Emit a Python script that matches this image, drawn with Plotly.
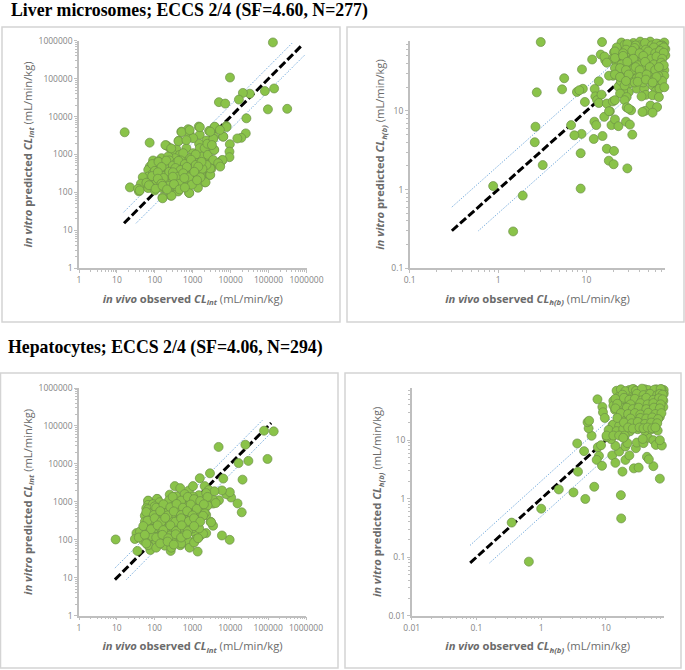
import math
import plotly.graph_objects as go

W = 685
H = 670

# (observed, predicted)
lm_clint = [
    (130000,900000),(9600,107000),(140000,55000),(80000,47000),(310000,16000),(96000,15500),(32000,40000),(21000,42000),
    (16500,28000),(4900,24000),(7200,22000),(26000,9000),(25000,3600),(19000,2750),(15000,2650),(9500,1870),(9300,1190),
    (9300,850),(16,3850),(73,2050),(22,136),(38,107),
    (1440,5450),(3800,5250),(7700,5650),(500,4000),(757,4650),(830,3500),(1530,3300),(2700,4200),(3640,2970),(6300,2970),
    (428,2300),(2290,2340),(1470,1920),(1020,2700),(203,1730),(250,1470),(370,1380),(680,1470),(1020,1085),(1530,1470),
    (2060,1470),(3640,1330),(2430,1920),(5900,695),(3200,695),(5100,535),(4200,570),(316,980),(150,800),(615,800),(455,980),
    (1440,850),(2060,725),(920,660),(90,695),(122,660),(74,480),(111,480),(82,395),(67,395),(184,437),(250,590),(335,535),
    (455,535),(590,570),(830,800),(1130,500),(2200,535),(3100,420),(2290,290),(1530,395),(69,265),(111,253),(191,323),
    (250,290),(335,323),(455,290),(640,357),(920,290),(1250,253),(1870,265),(2800,290),(2060,185),(48,253),(191,207),
    (500,195),(275,160),(135,160),(90,195),(55,150),(43,170),(36,125),(40,113),(67,130),(100,113),(156,130),(250,113),
    (410,106),(800,97),(264,82),(159,74),(1020,175),
    (150,323),(226,395),(410,395),(757,395),(1020,395),(615,265),(370,207),(275,245),(135,395),(100,290),(90,320),(165,590),
    (335,800),(1250,725),(1700,880),(2500,980),(560,1085),(226,890),(275,480),(560,437),(920,437),(1250,357),(1630,535),
    (184,175),(335,207),(757,207),(370,144),(184,130),(74,175),(122,215),(226,118),
    (3470,718),(6100,718),(4700,590),(5300,480),(2180,185),(2900,290),(1370,133),(810,97),(276,82),(160,70),(2900,430),
    (2300,530),(3500,2600),(3800,5400),(7800,5300),(6400,2950),(3700,1320),(3200,1770),(5200,4450),(2900,4000),
    (510,3900),(830,4400),(1540,5250),(190,1770),(270,1450),(420,2250),(680,2400),
    (130,250),(180,500),(240,700),(300,420),(380,620),(480,700),(650,500),(800,600),(1000,700),(1200,1000),(1400,600),
    (110,210),(170,270),(230,190),(300,230),(420,240),(520,160),(650,220),(900,210),(1100,300),(1500,320),(1800,420),
    (85,560),(125,640),(200,690),(300,510),(420,680),(620,560),(900,730),(1200,530),(1700,640),
    (100,370),(150,470),(240,350),(350,440),(480,390),(700,470),(1050,330),(1400,480),
    (85,270),(120,340),(170,240),(300,340),(420,260),(560,320),(800,250),(1100,350),(1600,250),
    (60,180),(120,230),(150,170),(240,150),(300,260),(450,170),(600,240),(950,160),(1300,210),
    (70,155),(105,125),(160,150),(210,120),(320,165),(450,120),(620,135),
]

lm_clhb = [
    (3.04,75),(15,75),(24.9,74),(14.5,52),(11.6,45),(8.9,33.7),(5.6,26),(5.3,18.8),(2.74,17.2),(7.8,17.4),(9.1,19.1),
    (8.3,18.3),(9.6,13),(13.8,23.8),(12.4,19),(12.6,15.3),(13.2,13.7),(14.8,16.1),(13.8,12.6),(17,12.4),(19.9,13.2),
    (18.4,9.9),(15.9,8.4),(12.3,7.3),(12.9,6.6),(19.2,6.6),(21,7.8),(23,6.4),(28,7.3),(31,6.7),(33,5),(15.2,4.8),
    (12.1,4.4),(8.8,5.1),(7.3,4.9),(6.7,6.6),(2.65,6.3),(2.6,4),(3.2,2.05),(8.6,2.9),(17,3.3),(20.5,3.1),(17.9,2.33),
    (20.3,2.1),(29,1.86),(0.88,1.11),(8.6,1.03),(1.9,0.84),(1.48,0.294),
    (34,73),(40.5,76),(52.6,76),(65,71),(76,74),(78,61),(65,59),(55,59),(44,59),(37,59),(30,59),(32,68),(27,69),
    (20.5,55.5),(25,55),(31,50),(38,49),(48,51),(59,49),(67,47),(78,51),(19.7,46),(23,44),(27,42),(34,40),(42,40),
    (53,40),(65,38),(16.3,44),(76,33),(76,28),(57,35),(46,32.7),(37,34.5),(32,27.8),(27,32),(25,32.7),(23,30),(26,25.6),
    (30,22),(20,28),(18,28),(37,19.2),(45,19.2),(56,21),(64,22),(61,17.8),(67,19.2),(47,16),(56,15.8),(42,15.3),(30,17.3),
    (26,18),(23,20.3),(24,16.6),(28.5,15),(27,13.7),(28.5,11.1),(32,10.2),(30,10.7),(21,13.7),(53,11.7),(63,11.2),(46,10),
    (56,9.5),(43,9.7),(18,9.9),
    (40,68),(49,68),(59,68),(44,68),(35,52),(42,49),(53,49),(25,40),(30,36),(34,30),(39,30),(50,30),(59,30),(65,28),(46,26),
    (37,26),(70,37),(72,68),(62,54),(48,36),(31,44),(36,44),(22,40),(21,35),(24.5,24),(27,21),(70,55),(74,66),(57,66),
    (60,44),(70,43),(44,45),(28,55),(23,52),(33,33),(42,36),(55,28),(72,24),(76,20),(66,15),(58,25),(44,23),(35,23),
    (29,71),(36,68),(46,73),(55,68),(62,72),(68,67),
    (22,64),(28,60),(35,63),(47,60),(58,64),(70,61),(75,64),
    (21,57),(26,54),(33,58),(40,54),(50,57),(60,54),(68,58),(75,55),
    (16,49),(21,47),(26,50),(34,46),(44,50),(54,46),(62,49),(72,46),
    (17,41),(25,39),(29,42),(38,38),(46,42),(58,39),(70,41),(75,38),
    (24,35),(28,33),(36,36),(40,33),(52,36),(60,33),(66,36),
    (21,29),(24,27),(30,29),(40,27),(48,29),(62,27),
    (28,24),(38,23.5),(47,25),(56,23),
]

hep_clint = [
    (140000,72000),(78000,75000),(25000,32000),(4900,28000),(96000,13500),(30000,12000),(16500,10500),(21000,3850),
    (6500,4100),(2900,5650),(1560,4200),(9.3,102),(35,51),(1370,49),(830,66),(265,51),(77,54),(9600,100),(6000,130),
    (3500,235),(3000,300),(2300,150),(1560,125),(1400,180),(1100,90),(20000,530),(15500,910),(10500,1300),(7800,1600),
    (9700,1800),(6000,2000),(5000,1100),(3500,900),(2300,450),(118,1180),(68,1050),(68,860),
    (67,1080),(115,1200),(67,830),(60,680),(340,2600),(475,2300),(810,2000),(1480,1500),(1030,2600),(2100,2600),
    (2700,2050),(3800,1900),(2300,1700),(3500,1120),(4100,930),(2350,920),(1300,1020),(840,1250),(460,1250),(275,1130),
    (250,1550),(375,1400),(620,1600),(1030,1380),
    (90,870),(135,980),(205,860),(300,1000),(410,850),(680,990),(1030,880),(1700,960),
    (67,640),(100,580),(165,660),(250,570),(375,650),(560,590),(840,670),(1400,580),(2100,640),
    (55,430),(81,385),(122,440),(205,380),(300,430),(460,395),(760,445),(1130,385),(1540,430),
    (55,300),(74,260),(110,290),(165,255),(250,295),(410,260),(620,290),(930,255),(1400,285),
    (33,150),(41,165),(60,140),(90,160),(135,140),(205,165),(300,140),(460,160),(680,140),(1130,160),(1900,145),
    (30,105),(50,95),(74,108),(110,92),(165,108),(275,94),(460,106),(760,92),(1250,105),
    (67,72),(110,62),(184,70),(275,62),(475,72),(840,62),
    (3100,290),(1100,85),(1400,110),
    (75,500),(100,760),(130,520),(160,770),(200,700),(240,1100),(320,780),(420,620),(500,1050),(600,800),(800,800),
    (1000,620),(1300,760),(1700,700),(2500,800),(90,340),(130,340),(170,480),(220,520),(260,340),(340,480),(420,330),
    (560,400),(700,500),(900,480),(1200,500),(1700,520),(2100,500),(70,200),(100,200),(140,210),(180,190),(240,200),
    (300,210),(380,190),(480,210),(600,190),(800,220),(1000,200),(1300,300),(1500,200),(85,125),(130,120),(200,125),
    (250,130),(340,120),(420,130),(600,130),(500,80),
    (300,1350),(500,1080),(750,1350),(1100,1180),(1600,1050),(2500,1350),
    (110,700),(170,860),(260,720),(380,880),(560,700),(900,850),(1300,650),(2000,860),
    (60,540),(95,450),(140,570),(220,440),(320,560),(500,450),(720,570),(1000,440),(1900,430),
    (65,320),(100,370),(150,300),(190,380),(350,300),(500,370),(800,310),(1100,370),(1600,300),
    (50,230),(80,190),(120,240),(170,180),(260,240),(370,170),(520,240),(760,170),(1100,230),
    (38,115),(55,135),(110,115),(160,135),(230,110),(360,140),(500,115),(720,140),
    (60,80),(140,80),(220,90),(320,75),
]

hep_clhb = [
    (0.645,0.084),(0.35,0.39),(1,0.675),(1.87,1.44),(3.15,1.28),(4.8,0.99),(6.6,1.6),(17,1.15),(17.2,0.46),(68,2.2),
    (3.7,2.9),(3.6,8.8),(4.6,6.5),(6,11.9),(5.4,16),(5.2,20.3),(5.5,21.5),(7.4,50),(8.8,37),(9,30),(9.6,24),
    (7.5,7.6),(8.4,8.2),(7.8,5.4),(7.2,4.6),(8.7,3.65),(12.5,5.5),(14,4.1),(18,2.9),(20,4.6),(23,5.5),(27,3.3),(32,3.4),
    (54,3.6),(43,5.2),(46,4.7),(16,6.4),(14,8),(12,10.4),(10.3,11.3),(11,13),(19,11),(20,7.8),(21.5,8.9),(29,7.3),(30,9.1),
    (38,10),(38,8.9),(45,11),(54,10),(59,8.3),(73,8.1),(68,10),(12.6,18),(14.7,14.6),
    (14.6,70),(18,65),(23,72),(32,66),(40,74),(51,67),(66,72),(77,65),
    (16,56),(22,51),(28,57),(35,52),(45,58),(58,52),(72,56),
    (13,47),(16,44),(20.8,48),(25,44),(31,47),(40,43),(50,48),(63,44),(77,47),
    (13,39),(17.4,36),(22,40),(28,36),(35,39),(47,36),(60,40),(77,37),
    (13.8,33),(18.5,30),(23.5,33),(29,30),(37,33),(50,31),(63,34),
    (19.5,27),(25,25),(31,28),(40,25),(53,27.5),(68,25),
    (17.4,22),(22,20.5),(29,22.5),(37,20.5),(47,22.5),(60,20.5),
    (13,18.5),(16,17.5),(20.8,19),(28,17.5),(35,19),(47,17.5),(56,19),
    (11,15),(14.6,14.3),(18.5,15.5),(23.5,14.2),(31,15.4),(40,14.4),(50,15.3),(63,14.6),
    (10.2,12),(13,12),(16,12),(19.5,12),(18.5,11),(37,10.5),
    (78,72),(78,62),(72,74),(60,74),(45,72),(27,74),(20,62),(25,60),(33,60),(42,62),(52,60),(65,60),(18,50),(24,50),
    (17,74),(20,69),(26,75),(29,70),(36,76),(56,73),(70,75),
    (18,60),(30,62),(38,59),(48,62),(62,59),(68,62),(75,60),
    (14,51),(19,53),(23,49),(28,51),(36,48),(42,53),(54,49),(66,52),(75,50),
    (15,42),(24,41),(34,43),(44,41),(54,43),(70,41),
    (14,35),(21,36),(26,34),(32,36),(42,34),(55,36),(68,35),
    (17,29),(22,28),(28,29),(34,27.5),(45,29.5),(58,28),(72,29),
    (15,24),(24,23.5),(34,24),(42,23.5),(52,24.5),(64,23),
    (19,20),(25,19.5),(31,20.5),(40,19),(50,20),(62,19.5),
    (22,16.5),(26,15.8),(33,16.5),(38,16),(44,16.5),(52,16),(58,16.5),
]

# reference lines: start and end of each one
lm_clint_unity = [15.4, 740000]
lm_clint_upper = ([15, 430000], [30, 890000])
lm_clint_lower = ([32, 900000], [15.4, 420000])
lm_clhb_unity = [0.3, 78]
lm_clhb_upper = ([0.3, 39], [0.6, 78])
lm_clhb_lower = ([0.6, 78], [0.3, 39])
hep_clint_unity = [8.9, 120000]
hep_clint_upper = ([8.9, 70000], [18, 140000])
hep_clint_lower = ([18, 114000], [9, 63000])
hep_clhb_unity = [0.08, 78]
hep_clhb_upper = ([0.08, 39], [0.16, 78])
hep_clhb_lower = ([0.16, 78], [0.08, 39])

decades_int = [1, 10, 100, 1000, 10000, 100000, 1000000]
decades_lm = [0.1, 1, 10]
decades_hep = [0.01, 0.1, 1, 10]
labels_int = ['1', '10', '100', '1000', '10000', '100000', '1000000']
labels_lm = ['0.1', '1', '10']
labels_hep = ['0.01', '0.1', '1', '10']

GREY = '#bfbfbf'
TICKTEXT = '#858585'
TITLETEXT = '#6b6b6b'
GREEN = '#8ac349'
SF = 'Open Sans'

fig = go.Figure()


def minors(decades, top):
    out = []
    for d in decades:
        for k in range(2, 10):
            if d * k <= top:
                out.append(d * k)
    return out


def axis_title(a, b, unit_sub):
    return ('<b><i>%s</i> %s <i>CL<sub>%s</sub></i></b> (mL/min/kg)' % (a, b, unit_sub))


def panel(n, pts, unity, upper, lower, px, py, decades, labels, top, sub):
    # px, py are the plot area in pixels, from the top left
    xname = 'x' + str(n)
    yname = 'y' + str(n)
    fig.add_trace(go.Scatter(x=upper[0], y=upper[1], mode='lines', xaxis=xname, yaxis=yname,
                             line=dict(color='#5b9bd5', width=1, dash='1px,1.5px')))
    fig.add_trace(go.Scatter(x=lower[0], y=lower[1], mode='lines', xaxis=xname, yaxis=yname,
                             line=dict(color='#5b9bd5', width=1, dash='1px,1.5px')))
    fig.add_trace(go.Scatter(x=unity, y=unity, mode='lines', xaxis=xname, yaxis=yname,
                             line=dict(color='black', width=3, dash='8px,3px')))
    fig.add_trace(go.Scatter(x=[p[0] for p in pts], y=[p[1] for p in pts], mode='markers',
                             xaxis=xname, yaxis=yname, cliponaxis=False,
                             marker=dict(size=9, color=GREEN, line=dict(color='#6d9148', width=0.7))))
    rng = [math.log10(decades[0]), math.log10(top)]
    common = dict(type='log', range=rng, tickmode='array', tickvals=decades, ticktext=labels,
                  showgrid=False, zeroline=False, showline=True, linecolor=GREY, linewidth=1.5,
                  ticks='outside', ticklen=3, tickcolor=GREY, tickwidth=1,
                  tickfont=dict(family=SF, size=8.5, color=TICKTEXT),
                  minor=dict(tickvals=minors(decades, top), ticks='outside', ticklen=2, tickcolor=GREY))
    fig.update_layout({
        ('xaxis' + str(n)): dict(common, domain=[px[0] / W, px[1] / W], anchor=yname,
                                 title=dict(text=axis_title('in vivo', 'observed', sub), standoff=11,
                                            font=dict(family=SF, size=11.2, color=TITLETEXT))),
        ('yaxis' + str(n)): dict(common, domain=[1 - py[1] / H, 1 - py[0] / H], anchor=xname,
                                 title=dict(text=axis_title('in vitro', 'predicted', sub), standoff=4,
                                            font=dict(family=SF, size=11.2, color=TITLETEXT))),
    })


panel(1, lm_clint, lm_clint_unity, lm_clint_upper, lm_clint_lower, (79, 306.5), (40.7, 268.3),
      decades_int, labels_int, 1000000, 'int')
panel(2, lm_clhb, lm_clhb_unity, lm_clhb_upper, lm_clhb_lower, (409.7, 665.3), (40.7, 268.3),
      decades_lm, labels_lm, 78, 'h(b)')
panel(3, hep_clint, hep_clint_unity, hep_clint_upper, hep_clint_lower, (79, 306), (388, 615.7),
      decades_int, labels_int, 1000000, 'int')
panel(4, hep_clhb, hep_clhb_unity, hep_clhb_upper, hep_clhb_lower, (411.7, 663.7), (388, 615.7),
      decades_hep, labels_hep, 78, 'h(b)')

frames = [(2, 27, 340, 322), (347, 27, 684, 322), (0.5, 373, 338, 668), (345, 373, 681, 668)]
for f in frames:
    fig.add_shape(type='rect', xref='paper', yref='paper', layer='below',
                  x0=f[0] / W, x1=f[2] / W, y0=1 - f[3] / H, y1=1 - f[1] / H,
                  line=dict(color='#d4d4d4', width=1.5))

fig.add_annotation(text='<b>Liver microsomes; ECCS 2/4 (SF=4.60, N=277)</b>', xref='paper', yref='paper',
                   x=8.5 / W, y=1 - 10 / H, xanchor='left', yanchor='middle', showarrow=False,
                   font=dict(family='Liberation Serif', size=17.8, color='black'))
fig.add_annotation(text='<b>Hepatocytes; ECCS 2/4 (SF=4.06, N=294)</b>', xref='paper', yref='paper',
                   x=5.5 / W, y=1 - 347 / H, xanchor='left', yanchor='middle', showarrow=False,
                   font=dict(family='Liberation Serif', size=17.8, color='black'))

fig.update_layout(width=W, height=H, margin=dict(l=0, r=0, t=0, b=0, autoexpand=False), showlegend=False,
                  paper_bgcolor='white', plot_bgcolor='white')

fig.write_html("out.html", config=dict(displayModeBar=False),
               post_script="document.body.style.margin='0';")
